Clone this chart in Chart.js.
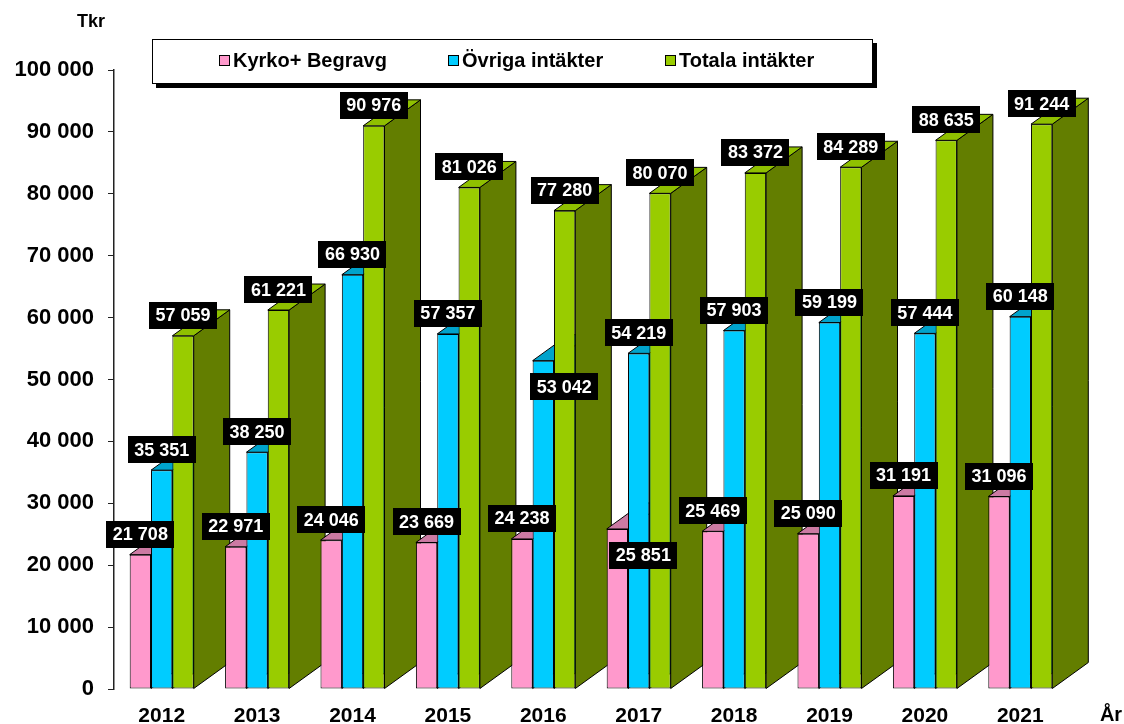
<!DOCTYPE html>
<html>
<head>
<meta charset="utf-8">
<script src="https://cdn.jsdelivr.net/npm/chart.js@4/dist/chart.umd.min.js"></script>
<style>
  body { margin: 0; background: #fff; }
  #wrap { width: 1124px; height: 724px; }
</style>
</head>
<body>
<div id="wrap"><canvas id="myChart" width="1124" height="724"></canvas></div>
<script>
// Данные диаграммы
const years = ['2012', '2013', '2014', '2015', '2016', '2017', '2018', '2019', '2020', '2021'];
const kyrko = [21708, 22971, 24046, 23669, 24238, 25851, 25469, 25090, 31191, 31096];
const ovriga = [35351, 38250, 66930, 57357, 53042, 54219, 57903, 59199, 57444, 60148];
const totala = [57059, 61221, 90976, 81026, 77280, 80070, 83372, 84289, 88635, 91244];
const seriesNames = ['Kyrko+ Begravg', 'Övriga intäkter', 'Totala intäkter'];
const yMax = 100000;
const yStep = 10000;

const FONT = '"Liberation Sans", Arial, sans-serif';
const frontColors = ['#FF99CC', '#00CCFF', '#99CC00'];
const topColors = ['#CC7AA3', '#00A3CC', '#8FC000'];
const sideColors = ['#B36B8F', '#0090B3', '#637E00'];
const DX = 36, DY = -26;

function fmt(v) {
	return String(v).replace(/\B(?=(\d{3})+(?!\d))/g, ' ');
}

function poly(ctx, pts, fill) {
	ctx.beginPath();
	ctx.moveTo(pts[0][0], pts[0][1]);
	for (let k = 1; k < pts.length; k++) ctx.lineTo(pts[k][0], pts[k][1]);
	ctx.closePath();
	ctx.fillStyle = fill;
	ctx.fill();
	ctx.lineWidth = 1;
	ctx.strokeStyle = '#000';
	ctx.stroke();
}

// боковые и верхние грани столбцов (псевдо-3D)
const bar3d = {
	id: 'bar3d',
	beforeDatasetsDraw(chart) {
		const ctx = chart.ctx;
		ctx.save();
		for (let i = 0; i < years.length; i++) {
			for (let d = 0; d < 3; d++) {
				const bar = chart.getDatasetMeta(d).data[i];
				const p = bar.getProps(['x', 'y', 'base', 'width'], true);
				const l = p.x - p.width / 2, r = p.x + p.width / 2;
				poly(ctx, [[r, p.y], [r + DX, p.y + DY], [r + DX, p.base + DY], [r, p.base]], sideColors[d]);
				poly(ctx, [[l, p.y], [l + DX, p.y + DY], [r + DX, p.y + DY], [r, p.y]], topColors[d]);
			}
		}
		ctx.restore();
	}
};

// подписи значений в чёрных рамках
const valueLabels = {
	id: 'valueLabels',
	afterDatasetsDraw(chart) {
		const ctx = chart.ctx;
		// ручные сдвиги некоторых подписей: [dataset, index, dx, dy от верха столбца]
		const moved = { '1-4': [21, 26], '0-5': [26, 26.5] };
		ctx.save();
		ctx.font = 'bold 18px ' + FONT;
		ctx.textAlign = 'center';
		ctx.textBaseline = 'middle';
		chart.data.datasets.forEach((ds, d) => {
			chart.getDatasetMeta(d).data.forEach((bar, i) => {
				const text = fmt(ds.data[i]);
				let cx = bar.x, cy = bar.y - 20.5;
				const m = moved[d + '-' + i];
				if (m) { cx = bar.x + m[0]; cy = bar.y + m[1]; }
				const w = ctx.measureText(text).width + 13;
				ctx.fillStyle = '#000';
				ctx.fillRect(Math.round(cx - w / 2), Math.round(cy - 13.5), Math.round(w), 27);
				ctx.fillStyle = '#fff';
				ctx.fillText(text, cx, cy + 1);
			});
		});
		ctx.restore();
	}
};

// легенда в рамке с тенью, подписи осей
const frameLegend = {
	id: 'frameLegend',
	afterDraw(chart) {
		const ctx = chart.ctx;
		ctx.save();
		ctx.fillStyle = '#000';
		ctx.fillRect(156, 43, 721, 45);
		ctx.fillStyle = '#fff';
		ctx.fillRect(152, 39, 721, 45);
		ctx.lineWidth = 1;
		ctx.strokeStyle = '#000';
		ctx.strokeRect(152.5, 39.5, 720, 44);
		const mx = [219, 448, 665];
		ctx.font = 'bold 20px ' + FONT;
		ctx.textBaseline = 'middle';
		ctx.textAlign = 'left';
		seriesNames.forEach((name, k) => {
			ctx.fillStyle = frontColors[k];
			ctx.fillRect(mx[k], 55, 11, 11);
			ctx.strokeRect(mx[k] + 0.5, 55.5, 10, 10);
			ctx.fillStyle = '#000';
			ctx.fillText(name, mx[k] + 14, 61);
		});
		ctx.font = 'bold 18px ' + FONT;
		ctx.textAlign = 'center';
		ctx.fillText('Tkr', 91, 22);
		ctx.font = 'bold 20px ' + FONT;
		ctx.fillText('År', 1111, 715);
		ctx.restore();
	}
};

const ctx = document.getElementById('myChart').getContext('2d');
const myChart = new Chart(ctx, {
	type: 'bar',
	data: {
		labels: years,
		datasets: [
			{ label: seriesNames[0], data: kyrko, backgroundColor: frontColors[0] },
			{ label: seriesNames[1], data: ovriga, backgroundColor: frontColors[1] },
			{ label: seriesNames[2], data: totala, backgroundColor: frontColors[2] }
		]
	},
	options: {
		responsive: false,
		animation: false,
		layout: { padding: { top: 70, right: 56, left: 0, bottom: 0 } },
		datasets: {
			bar: {
				borderColor: '#000',
				borderWidth: 1,
				borderSkipped: false,
				categoryPercentage: 0.671,
				barPercentage: 1.0
			}
		},
		plugins: {
			legend: { display: false },
			tooltip: { enabled: false }
		},
		scales: {
			x: {
				grid: { display: false, drawTicks: false },
				border: { display: false },
				ticks: { color: '#000', font: { family: FONT, size: 21, weight: 'bold' }, padding: 15, maxRotation: 0 },
				afterFit(scale) { scale.height = 35; }
			},
			y: {
				min: 0,
				max: yMax,
				grid: { drawOnChartArea: false, drawTicks: true, tickLength: 6, color: '#222' },
				border: { color: '#222', width: 1.5 },
				ticks: {
					stepSize: yStep,
					color: '#000',
					padding: 14,
					font: { family: FONT, size: 22, weight: 'bold' },
					callback: (v) => fmt(v)
				},
				afterFit(scale) { scale.width = 114; }
			}
		}
	},
	plugins: [bar3d, valueLabels, frameLegend]
});
</script>
</body>
</html>
